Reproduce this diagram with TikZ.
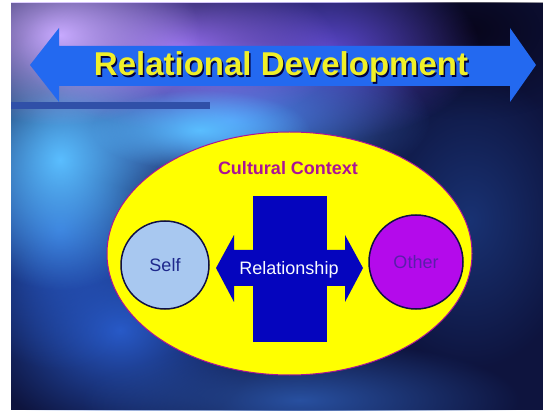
\documentclass[tikz,border=0pt]{standalone}
\usepackage{fontspec}
\setmainfont{Liberation Sans}
\usetikzlibrary{positioning,fadings,shapes.geometric}
\definecolor{skyback}{RGB}{14,20,62}
\definecolor{titleblue}{RGB}{35,105,240}
\definecolor{barblue}{RGB}{48,80,168}
\definecolor{titleyellow}{RGB}{240,240,40}
\definecolor{ctxyellow}{RGB}{255,255,0}
\definecolor{ctxpurple}{RGB}{170,20,150}
\definecolor{relblue}{RGB}{5,5,190}
\definecolor{selfblue}{RGB}{168,200,240}
\definecolor{otherpurple}{RGB}{180,10,235}
\definecolor{ringnavy}{RGB}{15,15,70}
\definecolor{selftext}{RGB}{30,40,140}
\definecolor{othertext}{RGB}{90,30,170}
\definecolor{lavender}{RGB}{200,170,255}
\definecolor{violet}{RGB}{150,110,240}
\definecolor{cyanish}{RGB}{90,190,255}
\definecolor{midblue}{RGB}{80,140,245}
\definecolor{deepviolet}{RGB}{90,70,200}
\definecolor{lowblue}{RGB}{40,90,200}
\definecolor{bottomblue}{RGB}{40,80,160}
\definecolor{rightnavy}{RGB}{25,50,115}
\definecolor{darkcorner}{RGB}{8,6,28}
\tikzfading[name=glow out, inner color=transparent!0, middle color=transparent!35, outer color=transparent!100]
\newcommand{\Blob}[5]{\fill[#5, path fading=glow out] (#1,#2) ellipse [x radius=#3, y radius=#4];}

\begin{document}
\begin{tikzpicture}[x=1pt,y=-1pt,
	person/.style={circle, draw=ringnavy, line width=1.5pt, minimum size=#1, inner sep=0pt, outer sep=0pt, font=\fontsize{18}{18}\selectfont},
	label18/.style={anchor=base, font=\fontsize{18}{18}\selectfont}]
\useasboundingbox (0,0) rectangle (543,411);
\fill[white] (0,0) rectangle (543,411);
\begin{scope}
	\clip (11,3) rectangle (543,410);
	\fill[skyback] (11,3) rectangle (543,410);
	\Blob{470}{30}{140}{90}{darkcorner}
	\Blob{120}{330}{140}{110}{lowblue}
	\Blob{470}{220}{110}{150}{rightnavy}
	\Blob{300}{400}{220}{60}{bottomblue}
	\Blob{330}{50}{150}{90}{deepviolet}
	\Blob{60}{230}{120}{140}{lowblue}
	\Blob{230}{120}{200}{80}{midblue}
	\Blob{60}{160}{120}{130}{cyanish}
	\Blob{180}{50}{160}{80}{violet}
	\Blob{60}{35}{140}{90}{lavender}
	\Blob{200}{130}{110}{40}{cyanish}
\end{scope}

\fill[titleblue] (30,65) -- (59,28) -- (59,46) -- (510,46) -- (510,28) -- (536,65)
	-- (510,102) -- (510,86) -- (59,86) -- (59,102) -- cycle;
\fill[barblue] (11,102) rectangle (210,109);
\node[anchor=base, text=black!75!blue, font=\fontsize{33}{33}\selectfont\bfseries] (titleshade) at (282.5,77.5) {Relational Development};
\node[anchor=base, text=titleyellow, font=\fontsize{33}{33}\selectfont\bfseries] (title) at (281,76) {Relational Development};

\node[ellipse, draw=ctxpurple, fill=ctxyellow, line width=1pt, minimum width=365pt, minimum height=243pt, inner sep=0pt] (ctx) at (289.5,253.5) {};
\node[anchor=base, text=ctxpurple, font=\fontsize{18}{18}\selectfont\bfseries] (ctxlabel) at (288,175) {Cultural Context};

\node[fill=relblue, minimum width=74pt, minimum height=146pt, inner sep=0pt, outer sep=0pt] (relbox) at (290,269) {};
\fill[relblue] (216,268) -- (234,235) -- (234,250) -- (345,250) -- (345,235) -- (363,268)
	-- (345,302) -- (345,286) -- (234,286) -- (234,302) -- cycle;
\node[label18, text=white!92!selfblue] (rellabel) at (289,275) {Relationship};

\node[person=88pt, fill=selfblue, text=selftext, left=44pt of relbox, yshift=4pt] (self) {Self};
\node[person=94pt, fill=otherpurple, text=othertext, right=42pt of relbox, yshift=7pt] (other) {Other};

\end{tikzpicture}
\end{document}
